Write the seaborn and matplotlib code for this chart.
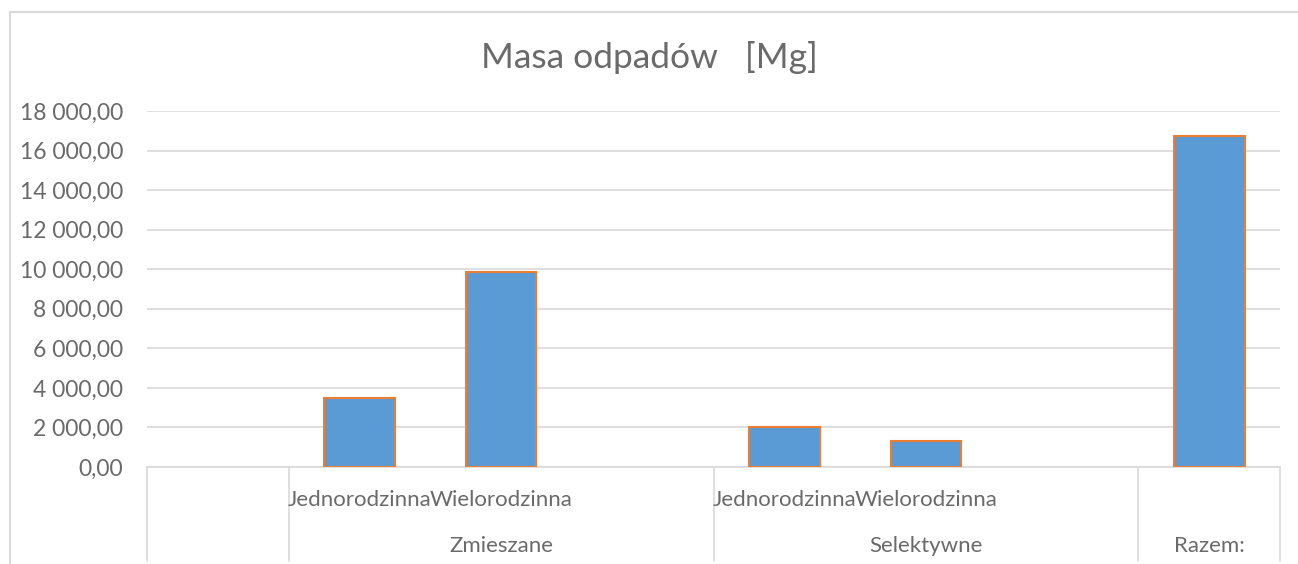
import numpy as np
import pandas as pd
import matplotlib
matplotlib.use("Agg")
import matplotlib.pyplot as plt
import seaborn as sns
from matplotlib.ticker import FuncFormatter
from matplotlib.patches import Rectangle

# data (Mg)
groups = ["", "Zmieszane", "Zmieszane", "Zmieszane",
          "Selektywne", "Selektywne", "Selektywne", "Razem:"]
subcats = ["", "Jednorodzinna", "Wielorodzinna", "",
           "Jednorodzinna", "Wielorodzinna", "", ""]
values = [np.nan, 3500, 9850, np.nan, 2000, 1320, np.nan, 16720]
yticks = list(range(0, 18001, 2000))

slots = [f"{g}|{s}|{i}" for i, (g, s) in enumerate(zip(groups, subcats))]
df = pd.DataFrame({"slot": slots, "mass": values})

sns.set_style("white")
plt.rcParams["font.family"] = ["Lato", "DejaVu Sans"]
TEXT = "#6A6A6A"
GRID = "#D9D9D9"

fig = plt.figure(figsize=(12.98, 5.64), dpi=100)
ax = fig.add_axes([147 / 1298, 1 - 467 / 564, (1280 - 147) / 1298, (467 - 111) / 564])

sns.barplot(data=df, x="slot", y="mass", order=slots, color="#5B9BD5",
            width=0.5, edgecolor="#ED7D31", linewidth=1.5, saturation=1,
            errorbar=None, ax=ax, zorder=3)

ax.set_ylim(0, 18000)
ax.set_xlim(-0.5, len(slots) - 0.5)
ax.set_yticks(yticks)
ax.yaxis.set_major_formatter(FuncFormatter(
    lambda v, p: f"{v:,.2f}".replace(",", " ").replace(".", ",")))
ax.grid(axis="y", color=GRID, linewidth=1.2, zorder=0)
ax.set_axisbelow(True)
for s in ["top", "right", "left"]:
    ax.spines[s].set_visible(False)
ax.spines["bottom"].set_color(GRID)
ax.spines["bottom"].set_linewidth(1.2)
ax.tick_params(axis="y", length=0, pad=17, labelsize=16.5, labelcolor=TEXT)
ax.set_xticks([])
ax.set_xlabel("")
ax.set_ylabel("")

# two-level category axis
trans = ax.get_xaxis_transform()
for i, s in enumerate(subcats):
    if s:
        ax.text(i, -0.093, s, transform=trans, ha="center", va="center",
                fontsize=16, color=TEXT, clip_on=False)

bounds = [-0.5]
for i in range(1, len(groups)):
    if groups[i] != groups[i - 1]:
        bounds.append(i - 0.5)
bounds.append(len(groups) - 0.5)
for b in bounds:
    ax.plot([b, b], [0, -0.265], transform=trans, color=GRID,
            linewidth=1.2, clip_on=False)

start = 0
for i in range(1, len(groups) + 1):
    if i == len(groups) or groups[i] != groups[start]:
        if groups[start]:
            ax.text((start + i - 1) / 2, -0.222, groups[start], transform=trans,
                    ha="center", va="center", fontsize=16, color=TEXT,
                    clip_on=False)
        start = i

fig.text(0.5, 1 - 58 / 564, "Masa odpadów   [Mg]", ha="center", va="center",
         fontsize=25.5, color=TEXT)

# chart area border
fig.patches.append(Rectangle((10 / 1298, -0.1), 1.2, 1 - 12 / 564 + 0.1,
                             transform=fig.transFigure, fill=False,
                             edgecolor=GRID, linewidth=1.5))

fig.savefig("out.png", dpi=100)
